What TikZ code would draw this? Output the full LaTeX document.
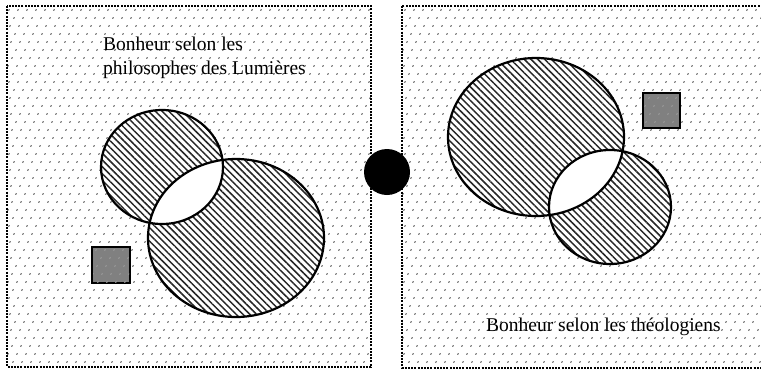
\documentclass[tikz,border=0pt]{standalone}
\usepackage{fontspec}
\setmainfont{Liberation Serif}
\usetikzlibrary{patterns,patterns.meta}

\tikzdeclarepattern{
  name=sparsedots,
  type=uncolored,
  bounding box={(-1.5pt,-1.5pt) and (1.5pt,1.5pt)},
  tile size={(9pt,8pt)},
  tile transformation={xslant=0.5},
  code={\fill (0pt,0pt) circle (0.95pt);}
}

\begin{document}
\begin{tikzpicture}[
    x=1pt, y=-1pt,
    frame/.style={draw, line width=2.3pt, dash pattern=on 2pt off 1.2pt,
                  pattern=sparsedots, pattern color=black!60},
    hatch/.style={pattern={Lines[angle=-45, distance=4.8pt, line width=1.5pt]},
                  pattern color=black!85},
    ring/.style={draw, line width=2.2pt},
    square/.style={draw, line width=2.2pt, fill=black!50},
    label/.style={inner sep=0pt, font=\fontsize{19.5}{24}\selectfont, align=left}
]
  \useasboundingbox (0,0) rectangle (761,370);
  \clip (0,0) rectangle (761,370);

  % the two frames
  \path[frame] (7,6) rectangle (371,367);
  \path[frame] (402,6) rectangle (790,368);

  % left frame: ellipses
  \fill[white] (162,167) ellipse [x radius=61, y radius=57];
  \fill[white] (236,238) ellipse [x radius=88, y radius=79];
  \path[hatch] (162,167) ellipse [x radius=61, y radius=57];
  \path[hatch] (236,238) ellipse [x radius=88, y radius=79];
  \begin{scope}
    \clip (162,167) ellipse [x radius=61, y radius=57];
    \fill[white] (236,238) ellipse [x radius=88, y radius=79];
  \end{scope}
  \draw[ring] (162,167) ellipse [x radius=61, y radius=57];
  \draw[ring] (236,238) ellipse [x radius=88, y radius=79];

  % right frame: ellipses
  \fill[white] (536,137) ellipse [x radius=88, y radius=79];
  \fill[white] (610,207) ellipse [x radius=61, y radius=57];
  \path[hatch] (536,137) ellipse [x radius=88, y radius=79];
  \path[hatch] (610,207) ellipse [x radius=61, y radius=57];
  \begin{scope}
    \clip (536,137) ellipse [x radius=88, y radius=79];
    \fill[white] (610,207) ellipse [x radius=61, y radius=57];
  \end{scope}
  \draw[ring] (536,137) ellipse [x radius=88, y radius=79];
  \draw[ring] (610,207) ellipse [x radius=61, y radius=57];

  % grey squares
  \path[square] (92,247) rectangle (130,283);
  \path[pattern=sparsedots, pattern color=black!40] (93,248) rectangle (129,282);
  \path[square] (643,93) rectangle (680,128);
  \path[pattern=sparsedots, pattern color=black!40] (644,94) rectangle (679,127);

  % black dot between the frames
  \fill (387,172) circle (23);

  \node[label, anchor=north west] (philo) at (103,37)
    {Bonheur selon les\\philosophes des Lumières};
  \node[label, anchor=base west] (theo) at (486,331)
    {Bonheur selon les théologiens};
\end{tikzpicture}
\end{document}
